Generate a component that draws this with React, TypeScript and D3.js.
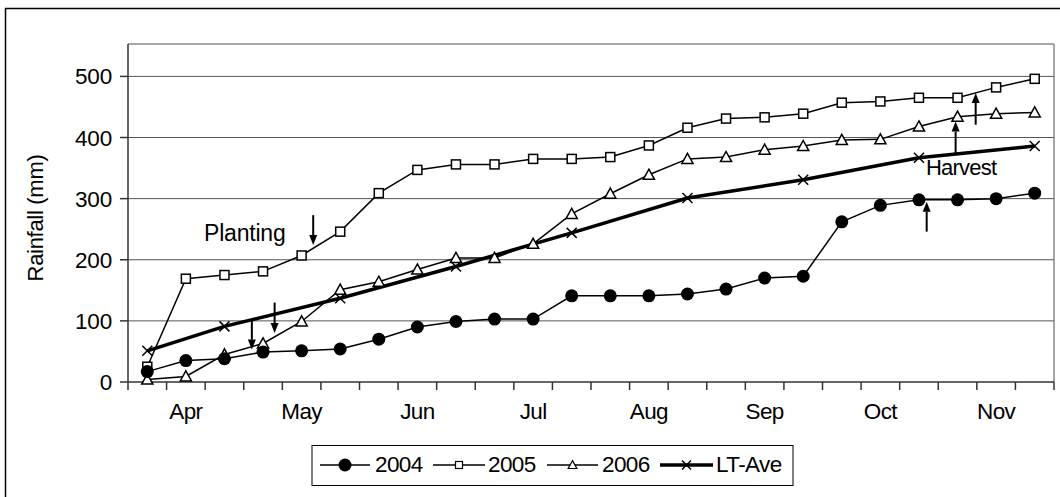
import React from "react";
import * as d3 from "d3";

const months = ["Mar", "Apr", "May", "Jun", "Jul", "Aug", "Sep", "Oct", "Nov"];
const categories: string[] = [];
for (let i = 0; i < 24; i++) {
  const k = i + 2; // start at Mar dekad 3
  categories.push(months[Math.floor(k / 3)] + "-D" + ((k % 3) + 1));
}
const tickLabels = categories.map((c) => (c.endsWith("-D1") ? c.slice(0, 3) : ""));

const s2004 = [17, 35, 38, 49, 51, 54, 70, 90, 99, 103, 103, 141, 141, 141, 144, 152, 170, 173, 262, 289, 298, 298, 300, 309];
const s2005 = [25, 169, 175, 181, 207, 246, 309, 347, 356, 356, 365, 365, 368, 387, 416, 431, 433, 439, 457, 459, 465, 465, 482, 496];
const s2006 = [4, 9, 45, 63, 99, 151, 164, 184, 203, 203, 226, 275, 308, 339, 365, 368, 380, 386, 396, 397, 418, 434, 439, 441];
const ltIdx = [0, 2, 5, 8, 11, 14, 17, 20, 23];
const ltVal = [51, 91, 137, 189, 244, 301, 331, 367, 386];
const yTicks = [0, 100, 200, 300, 400, 500];

// annotations in data units: [category position, from value, to value]
const plantingArrows = [
  [4.3, 273, 224],
  [3.3, 130, 80],
  [2.71, 102, 53],
];
const harvestArrows = [
  [21.47, 421, 473],
  [20.95, 372, 426],
  [20.2, 246, 295],
];

const W = 1060, H = 497;
const L = 128, R = 1054, T = 44, B = 382;
const FONT = "'Liberation Sans', Arial, sans-serif";

export default function App() {
  const x = d3.scaleBand<number>().domain(d3.range(categories.length)).range([L, R]).padding(0);
  const bw = x.bandwidth();
  const cx = (i: number) => (x(i) as number) + bw / 2;
  const cxf = (p: number) => L + bw * (p + 0.5);
  const y = d3.scaleLinear().domain([0, 553]).range([B, T]);
  const line = d3.line<[number, number]>().x((d) => d[0]).y((d) => d[1]);

  const pts = (arr: number[]) => arr.map((v, i) => [cx(i), y(v)] as [number, number]);
  const ltPts = ltIdx.map((i, k) => [cx(i), y(ltVal[k])] as [number, number]);

  const tri = (px: number, py: number, s: number) =>
    `M${px},${py - s * 0.62}L${px + s * 0.62},${py + s * 0.5}L${px - s * 0.62},${py + s * 0.5}Z`;
  const cross = (px: number, py: number, s: number) =>
    `M${px - s},${py - s}L${px + s},${py + s}M${px - s},${py + s}L${px + s},${py - s}`;

  const arrow = (p: number[], k: string) => {
    const ax = cxf(p[0]);
    const y1 = y(p[1]);
    const y2 = y(p[2]);
    const dir = y2 > y1 ? 1 : -1;
    const hl = 10;
    return (
      <g key={k}>
        <line x1={ax} y1={y1} x2={ax} y2={y2 - dir * hl} stroke="#000" strokeWidth={2} />
        <path d={`M${ax},${y2}L${ax - 4},${y2 - dir * hl}L${ax + 4},${y2 - dir * hl}Z`} fill="#000" />
      </g>
    );
  };

  const legendY = 465;
  const legendItems = [
    { label: "2004", x0: 320, x1: 370, tx: 375, m: "circle" },
    { label: "2005", x0: 433, x1: 485, tx: 488, m: "square" },
    { label: "2006", x0: 547, x1: 598, tx: 602, m: "tri" },
    { label: "LT-Ave", x0: 660, x1: 713, tx: 716, m: "cross" },
  ];

  return (
    <svg width={W} height={H} style={{ position: "absolute", left: 0, top: 0, background: "#fff" }} fontFamily={FONT}>
      <rect x={0} y={0} width={W} height={H} fill="#fff" />
      <rect x={5.5} y={8.5} width={1080} height={520} fill="none" stroke="#000" strokeWidth={1.5} />
      {/* plot frame */}
      <line x1={L} y1={T} x2={R} y2={T} stroke="#888" strokeWidth={1.5} />
      <line x1={R} y1={T} x2={R} y2={B} stroke="#888" strokeWidth={1.5} />
      {/* gridlines */}
      {yTicks.filter((t) => t > 0).map((t) => (
        <line key={t} x1={L} x2={R} y1={y(t)} y2={y(t)} stroke="#555" strokeWidth={1} />
      ))}
      {/* y axis */}
      <line x1={L} y1={T} x2={L} y2={B} stroke="#333" strokeWidth={1.5} />
      {yTicks.map((t) => (
        <g key={t}>
          <line x1={L - 8} x2={L} y1={y(t)} y2={y(t)} stroke="#333" strokeWidth={1.5} />
          <text x={112} y={y(t)} dy="0.36em" textAnchor="end" fontSize={22.5} letterSpacing={-0.2}>
            {t}
          </text>
        </g>
      ))}
      <text transform={`translate(43,${218}) rotate(-90)`} textAnchor="middle" fontSize={22} letterSpacing={-0.3}>
        Rainfall (mm)
      </text>
      {/* x axis */}
      <line x1={L} y1={B} x2={R} y2={B} stroke="#333" strokeWidth={1.5} />
      {d3.range(categories.length + 1).map((i) => (
        <line key={i} x1={L + i * bw} x2={L + i * bw} y1={B} y2={B + 8} stroke="#333" strokeWidth={1.5} />
      ))}
      {tickLabels.map((t, i) =>
        t ? (
          <text key={i} x={cx(i)} y={419} textAnchor="middle" fontSize={22.5} letterSpacing={-0.6}>
            {t}
          </text>
        ) : null
      )}
      {/* series lines */}
      <path d={line(pts(s2005)) || ""} fill="none" stroke="#000" strokeWidth={1.5} />
      <path d={line(pts(s2006)) || ""} fill="none" stroke="#000" strokeWidth={1.5} />
      <path d={line(ltPts) || ""} fill="none" stroke="#000" strokeWidth={3.5} />
      <path d={line(pts(s2004)) || ""} fill="none" stroke="#000" strokeWidth={1.5} />
      {/* markers */}
      {pts(s2005).map(([px, py], i) => (
        <rect key={"s" + i} x={px - 4.5} y={py - 4.5} width={9} height={9} fill="#fff" stroke="#000" strokeWidth={1.5} />
      ))}
      {pts(s2006).map(([px, py], i) => (
        <path key={"t" + i} d={tri(px, py, 9)} fill="#fff" stroke="#000" strokeWidth={1.5} />
      ))}
      {ltPts.map(([px, py], i) => (
        <path key={"x" + i} d={cross(px, py, 5)} stroke="#000" strokeWidth={1.5} fill="none" />
      ))}
      {pts(s2004).map(([px, py], i) => (
        <circle key={"c" + i} cx={px} cy={py} r={6.5} fill="#000" />
      ))}
      {/* annotations */}
      {plantingArrows.map((p, i) => arrow(p, "p" + i))}
      {harvestArrows.map((p, i) => arrow(p, "h" + i))}
      <text x={204} y={241} fontSize={23} letterSpacing={-0.2}>
        Planting
      </text>
      <text x={926} y={175} fontSize={22} letterSpacing={-0.8}>
        Harvest
      </text>
      {/* legend */}
      <rect x={312} y={445.5} width={481} height={40} fill="#fff" stroke="#000" strokeWidth={1} />
      {legendItems.map((it) => {
        const mx = (it.x0 + it.x1) / 2;
        return (
          <g key={it.label}>
            <line x1={it.x0} x2={it.x1} y1={legendY} y2={legendY} stroke="#000" strokeWidth={it.m === "cross" ? 3.5 : 1.5} />
            {it.m === "circle" && <circle cx={mx} cy={legendY} r={6.5} fill="#000" />}
            {it.m === "square" && (
              <rect x={mx - 3.5} y={legendY - 3.5} width={7} height={7} fill="#fff" stroke="#000" strokeWidth={1.2} />
            )}
            {it.m === "tri" && <path d={tri(mx, legendY, 7)} fill="#fff" stroke="#000" strokeWidth={1.2} />}
            {it.m === "cross" && <path d={cross(mx, legendY, 4.5)} stroke="#000" strokeWidth={1.5} fill="none" />}
            <text x={it.tx} y={472} fontSize={22.5} letterSpacing={-0.6}>
              {it.label}
            </text>
          </g>
        );
      })}
    </svg>
  );
}
